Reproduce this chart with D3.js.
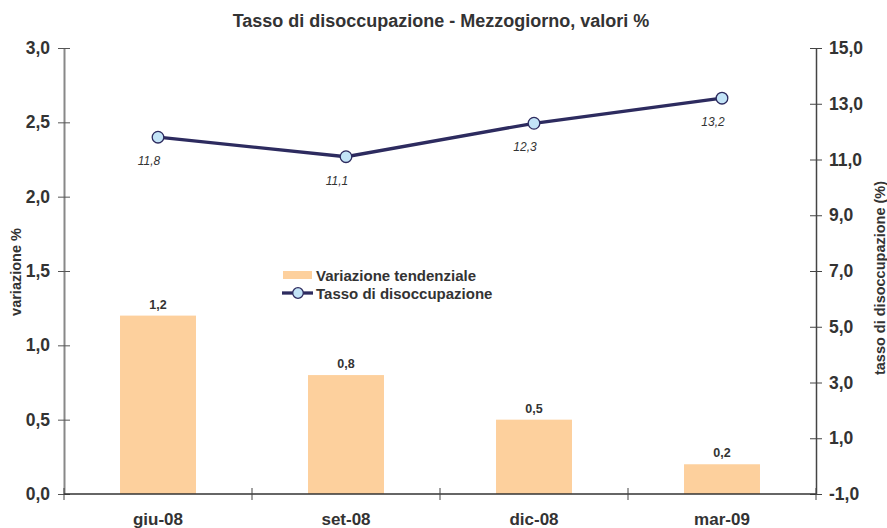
<!DOCTYPE html>
<html>
  <head>
    <meta charset="utf-8" />
    <title>Tasso di disoccupazione - Mezzogiorno</title>
    <script src="https://d3js.org/d3.v7.js"></script>
    <style>
      body { margin: 0; background: #fff; }
      svg text { font-family: 'Liberation Sans', Arial, sans-serif; fill: #333; }
    </style>
  </head>
  <body>
    <svg width="887" height="528"></svg>

    <script>
      (function (d3) {
        'use strict';

        const titleText = 'Tasso di disoccupazione - Mezzogiorno, valori %';
        const leftLabelText = 'variazione %';
        const rightLabelText = 'tasso di disoccupazione (%)';

        const categories = ['giu-08', 'set-08', 'dic-08', 'mar-09'];
        const variazione = [1.2, 0.8, 0.5, 0.2];
        const tasso = [11.8, 11.1, 12.3, 13.2];
        const leftTicks = [0, 0.5, 1.0, 1.5, 2.0, 2.5, 3.0];
        const rightTicks = [-1, 1, 3, 5, 7, 9, 11, 13, 15];
        const seriesNames = ['Variazione tendenziale', 'Tasso di disoccupazione'];

        const barColor = '#fdd09d';
        const lineColor = '#2d2b5f';
        const markerFill = '#c3e4f7';

        // italian style: comma decimals, plain hyphen for minus
        const fmt = (v) =>
          d3.format('.1f')(v).replace('.', ',').replace('\u2212', '-');

        const svg = d3.select('svg');
        const margin = { top: 48, right: 71, bottom: 34, left: 64 };
        const width = +svg.attr('width');
        const height = +svg.attr('height');
        const innerWidth = width - margin.left - margin.right;
        const innerHeight = height - margin.top - margin.bottom;

        const g = svg
          .append('g')
          .attr('transform', `translate(${margin.left},${margin.top})`);

        const x = d3
          .scaleBand()
          .domain(categories)
          .range([0, innerWidth])
          .paddingInner(0.596)
          .paddingOuter(0.298);

        // band for axis ticks (full category width)
        const xCat = d3.scaleBand().domain(categories).range([0, innerWidth]);
        const cx = (i) => xCat(categories[i]) + xCat.bandwidth() / 2;

        const yLeft = d3.scaleLinear().domain([0, 3]).range([innerHeight, 0]);
        const yRight = d3.scaleLinear().domain([-1, 15]).range([innerHeight, 0]);

        // bars
        g.selectAll('.bar')
          .data(categories)
          .enter()
          .append('rect')
          .attr('class', 'bar')
          .attr('x', (d) => x(d))
          .attr('y', (d, i) => yLeft(variazione[i]))
          .attr('width', x.bandwidth())
          .attr('height', (d, i) => innerHeight - yLeft(variazione[i]))
          .attr('fill', barColor);

        g.selectAll('.bar-label')
          .data(categories)
          .enter()
          .append('text')
          .attr('x', (d) => x(d) + x.bandwidth() / 2)
          .attr('y', (d, i) => yLeft(variazione[i]) - 7)
          .attr('text-anchor', 'middle')
          .style('font-size', '12.5px')
          .style('font-weight', 'bold')
          .text((d, i) => fmt(variazione[i]));

        // left axis
        const leftAxis = g
          .append('g')
          .call(
            d3.axisLeft(yLeft).tickValues(leftTicks).tickFormat(fmt).tickSize(6).tickSizeOuter(0),
          );
        leftAxis.select('.domain').attr('stroke', '#888').attr('stroke-width', 2);
        leftAxis
          .selectAll('.tick line')
          .attr('x1', 6)
          .attr('x2', -6)
          .attr('stroke', '#555');
        leftAxis
          .selectAll('.tick text')
          .attr('x', -14)
          .style('font-size', '17.5px')
          .style('font-weight', 'bold')
          .attr('fill', '#333');

        // right axis
        const rightAxis = g
          .append('g')
          .attr('transform', `translate(${innerWidth},0)`)
          .call(
            d3.axisRight(yRight).tickValues(rightTicks).tickFormat(fmt).tickSize(6).tickSizeOuter(0),
          );
        rightAxis.select('.domain').attr('stroke', '#444').attr('stroke-width', 1.5);
        rightAxis
          .selectAll('.tick line')
          .attr('x1', -6)
          .attr('x2', 6)
          .attr('stroke', '#444');
        rightAxis
          .selectAll('.tick text')
          .attr('x', 13)
          .style('font-size', '17.5px')
          .style('font-weight', 'bold')
          .attr('fill', '#333');

        // x axis
        const xAxisG = g.append('g').attr('transform', `translate(0,${innerHeight})`);
        xAxisG
          .append('line')
          .attr('x1', 0)
          .attr('x2', innerWidth)
          .attr('stroke', '#333')
          .attr('stroke-width', 1.5);
        xAxisG
          .selectAll('.xtick')
          .data(categories.concat(['end']))
          .enter()
          .append('line')
          .attr('x1', (d, i) => i * xCat.bandwidth())
          .attr('x2', (d, i) => i * xCat.bandwidth())
          .attr('y1', -6)
          .attr('y2', 6)
          .attr('stroke', '#444');
        xAxisG
          .selectAll('.xlabel')
          .data(categories)
          .enter()
          .append('text')
          .attr('x', (d) => xCat(d) + xCat.bandwidth() / 2)
          .attr('y', 31)
          .attr('text-anchor', 'middle')
          .style('font-size', '17px')
          .style('font-weight', 'bold')
          .text((d) => d);

        // line series
        const line = d3
          .line()
          .x((d, i) => cx(i))
          .y((d) => yRight(d));

        g.append('path')
          .datum(tasso)
          .attr('fill', 'none')
          .attr('stroke', lineColor)
          .attr('stroke-width', 3.3)
          .attr('d', line);

        g.selectAll('.dot')
          .data(tasso)
          .enter()
          .append('circle')
          .attr('cx', (d, i) => cx(i))
          .attr('cy', (d) => yRight(d))
          .attr('r', 5.8)
          .attr('fill', markerFill)
          .attr('stroke', lineColor)
          .attr('stroke-width', 1.3);

        g.selectAll('.line-label')
          .data(tasso)
          .enter()
          .append('text')
          .attr('x', (d, i) => cx(i) - 9)
          .attr('y', (d) => yRight(d) + 28)
          .attr('text-anchor', 'middle')
          .style('font-size', '12px')
          .style('font-style', 'italic')
          .text((d) => fmt(d));

        // title
        svg
          .append('text')
          .attr('x', 441)
          .attr('y', 27)
          .attr('text-anchor', 'middle')
          .style('font-size', '18px')
          .style('font-weight', 'bold')
          .text(titleText);

        // axis titles
        svg
          .append('text')
          .attr('transform', 'translate(21,272) rotate(-90)')
          .attr('text-anchor', 'middle')
          .style('font-size', '14.5px')
          .style('font-weight', 'bold')
          .text(leftLabelText);

        svg
          .append('text')
          .attr('transform', 'translate(885,278) rotate(-90)')
          .attr('text-anchor', 'middle')
          .style('font-size', '14.5px')
          .style('font-weight', 'bold')
          .text(rightLabelText);

        // legend
        const legend = svg.append('g').attr('transform', 'translate(283,275)');
        legend
          .append('rect')
          .attr('x', 0)
          .attr('y', -4)
          .attr('width', 29)
          .attr('height', 8)
          .attr('fill', barColor);
        legend
          .append('line')
          .attr('x1', -1)
          .attr('x2', 30)
          .attr('y1', 18)
          .attr('y2', 18)
          .attr('stroke', lineColor)
          .attr('stroke-width', 3.3);
        legend
          .append('circle')
          .attr('cx', 15)
          .attr('cy', 18)
          .attr('r', 5.3)
          .attr('fill', markerFill)
          .attr('stroke', lineColor)
          .attr('stroke-width', 1.3);
        legend
          .selectAll('.legend-text')
          .data(seriesNames)
          .enter()
          .append('text')
          .attr('x', 33)
          .attr('y', (d, i) => i * 18 + 5.5)
          .style('font-size', '15px')
          .style('font-weight', 'bold')
          .text((d) => d);
      })(d3);
    </script>
  </body>
</html>
